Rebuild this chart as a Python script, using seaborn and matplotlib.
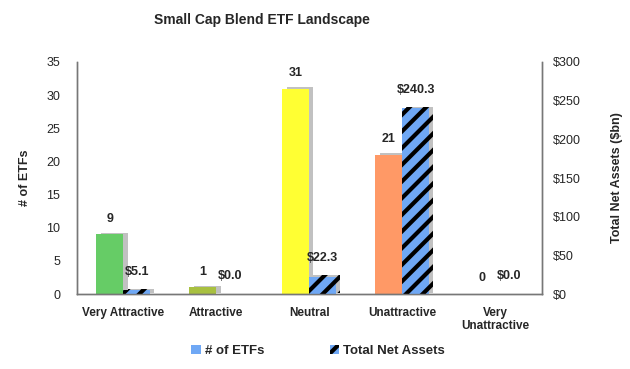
import numpy as np
import pandas as pd
import matplotlib
import matplotlib.pyplot as plt
import matplotlib.patheffects as pe
from matplotlib.patches import Patch
import seaborn as sns

# chart data
ratings = ["Very Attractive", "Attractive", "Neutral", "Unattractive", "Very\nUnattractive"]
num_etfs = [9, 1, 31, 21, 0]
net_assets = [5.1, 0.0, 22.3, 240.3, 0.0]
count_colors = ["#66CC66", "#A8C040", "#FFFF33", "#FF9966", "#B0B0B0"]

sns.set_style("white")
plt.rcParams["font.family"] = ["Liberation Sans", "DejaVu Sans"]
plt.rcParams["hatch.linewidth"] = 3.0

# long table with hue so seaborn dodges the two series side by side
df = pd.DataFrame({
    "Rating": ratings * 2,
    "Series": ["# of ETFs"] * 5 + ["Total Net Assets"] * 5,
    "count": num_etfs + [np.nan] * 5,
    "assets": [np.nan] * 5 + net_assets,
})

fig = plt.figure(figsize=(6.3, 3.69), dpi=100)
ax = fig.add_axes([0.122, 0.203, 0.738, 0.629])
ax2 = ax.twinx()

shadow = [pe.SimplePatchShadow(offset=(3, 1), shadow_rgbFace="#999999", alpha=0.6), pe.Normal()]

sns.barplot(data=df, x="Rating", y="count", hue="Series", width=0.58,
            palette=["#6FA8F5", "#6FA8F5"], ax=ax, legend=False, errorbar=None)
sns.barplot(data=df, x="Rating", y="assets", hue="Series", width=0.58,
            palette=["#6FA8F5", "#6FA8F5"], ax=ax2, legend=False, errorbar=None)

count_bars = [p for p in ax.patches if p.get_width() > 0][:5]
asset_bars = [p for p in ax2.patches if p.get_width() > 0][-5:]

for bar, c, v in zip(count_bars, count_colors, num_etfs):
    bar.set_facecolor(c)
    bar.set_edgecolor("none")
    bar.set_path_effects(shadow)
    ax.annotate(f"{v}", (bar.get_x() + bar.get_width() / 2, bar.get_height()),
                xytext=(0, 7), textcoords="offset points", ha="center", va="bottom",
                fontsize=9, fontweight="bold")

for bar, v in zip(asset_bars, net_assets):
    bar.set_facecolor("#6FA8F5")
    bar.set_edgecolor("black")
    bar.set_linewidth(0)
    bar.set_hatch("//")
    bar.set_path_effects(shadow)
    ax2.annotate(f"${v:.1f}", (bar.get_x() + bar.get_width() / 2, bar.get_height()),
                 xytext=(0, 9), textcoords="offset points", ha="center", va="bottom",
                 fontsize=9, fontweight="bold")

ax.set_ylim(0, 35)
ax.set_yticks(np.arange(0, 36, 5))
ax2.set_ylim(0, 300)
ax2.set_yticks(np.arange(0, 301, 50))
ax2.set_yticklabels([f"${t}" for t in range(0, 301, 50)])
ax.set_xlim(-0.5, 4.5)

ax.set_xlabel("")
ax.set_ylabel("# of ETFs", fontsize=9, fontweight="bold", labelpad=11)
ax2.set_ylabel("Total Net Assets ($bn)", fontsize=9, fontweight="bold", labelpad=22)

ax.set_xticks(range(5))
ax.set_xticklabels(ratings, fontsize=8.5, fontweight="bold")
ax.tick_params(axis="x", length=0, pad=9)
ax.set_xticks(np.arange(-0.5, 4.6, 1), minor=True)
ax.tick_params(axis="x", which="minor", length=4, direction="out", color="#444444")
ax.tick_params(axis="y", labelsize=9, length=0, pad=12)
ax2.tick_params(axis="y", labelsize=9, length=0, pad=8)

for a in (ax, ax2):
    a.spines["top"].set_visible(False)
    for s in ("left", "right", "bottom"):
        a.spines[s].set_color("#777777")
        a.spines[s].set_linewidth(1)

fig.suptitle("Small Cap Blend ETF Landscape", x=0.416, y=0.965, fontsize=10, fontweight="bold")

handles = [Patch(facecolor="#6FA8F5", edgecolor="none"),
           Patch(facecolor="#6FA8F5", edgecolor="black", linewidth=0, hatch="//")]
fig.legend(handles, ["# of ETFs", "Total Net Assets"], loc="lower center",
           bbox_to_anchor=(0.505, 0.0), ncol=2, frameon=False,
           handlelength=0.7, handleheight=0.7, columnspacing=5, handletextpad=0.3,
           prop={"weight": "bold", "size": 9.5})

fig.savefig("out.png", dpi=100)
